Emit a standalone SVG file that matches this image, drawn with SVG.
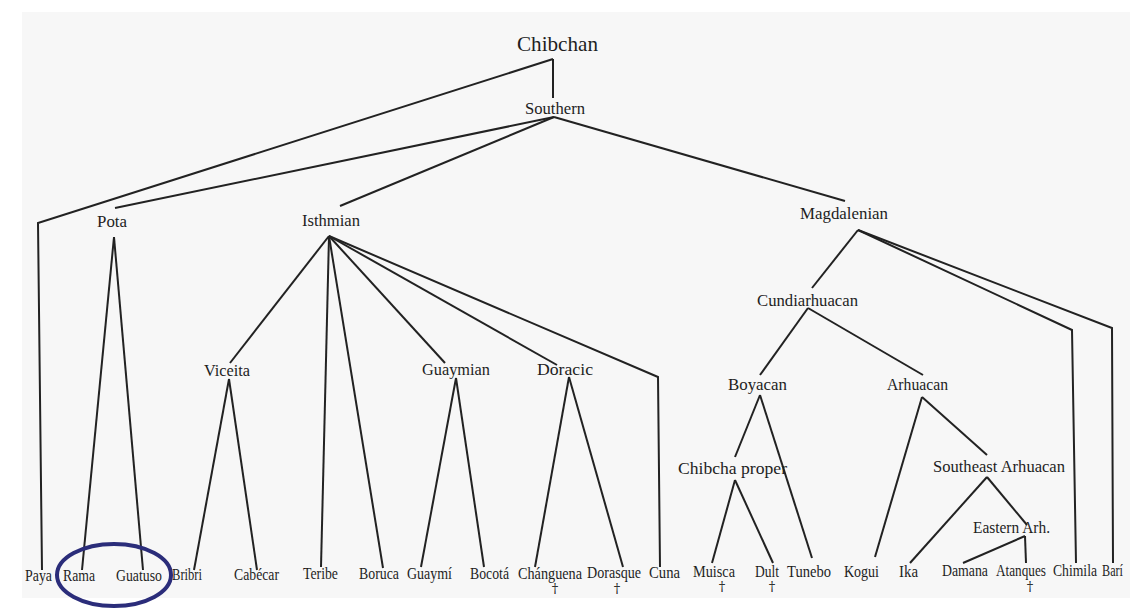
<svg xmlns="http://www.w3.org/2000/svg" width="1130" height="608" viewBox="0 0 1130 608" font-family="'Liberation Serif', 'DejaVu Serif', 'Times New Roman', serif">
<style>
text{fill:#1e1e1e}
.lab{font-size:17px}
.leaf{font-size:17px}
.dag{font-size:13px;font-family:'DejaVu Serif','Liberation Serif',serif}
.top{font-size:21px}
#connectors polyline,#connectors line{stroke:#222;stroke-width:2;fill:none;stroke-linejoin:miter}
</style>
<rect width="1130" height="608" fill="#ffffff"/>
<rect x="22" y="12" width="1108" height="586" fill="#f7f7f7"/>
<g id="connectors">
<line x1="553" y1="59" x2="553" y2="98"/>
<polyline points="553,59 38,223 42,570"/>
<line x1="554" y1="117" x2="115" y2="208"/>
<line x1="554" y1="117" x2="340" y2="206"/>
<line x1="554" y1="117" x2="845" y2="201"/>
<line x1="114" y1="237" x2="82" y2="570"/>
<line x1="114" y1="237" x2="143" y2="570"/>
<line x1="329" y1="236" x2="230" y2="363"/>
<line x1="329" y1="236" x2="321" y2="567"/>
<line x1="329" y1="236" x2="383" y2="568"/>
<line x1="329" y1="236" x2="445" y2="363"/>
<line x1="329" y1="236" x2="557" y2="365"/>
<polyline points="329,236 658,377 660,567"/>
<line x1="229" y1="379" x2="194" y2="570"/>
<line x1="229" y1="379" x2="257" y2="570"/>
<line x1="456" y1="378" x2="421" y2="567"/>
<line x1="456" y1="378" x2="484" y2="567"/>
<line x1="569" y1="377" x2="535" y2="567"/>
<line x1="569" y1="377" x2="623" y2="567"/>
<line x1="858" y1="230" x2="812" y2="288"/>
<polyline points="858,230 1072,330 1076,563"/>
<polyline points="858,230 1112,328 1113,563"/>
<line x1="808" y1="308" x2="760" y2="375"/>
<line x1="808" y1="308" x2="923" y2="375"/>
<line x1="760" y1="395" x2="735" y2="457"/>
<line x1="760" y1="395" x2="812" y2="558"/>
<line x1="735" y1="480" x2="712" y2="563"/>
<line x1="735" y1="480" x2="773" y2="563"/>
<line x1="922" y1="397" x2="875" y2="557"/>
<line x1="922" y1="397" x2="987" y2="455"/>
<line x1="987" y1="477" x2="910" y2="563"/>
<line x1="987" y1="477" x2="1027" y2="525"/>
<line x1="1025" y1="536" x2="963" y2="563"/>
<line x1="1025" y1="536" x2="1026" y2="563"/>
</g>
<g id="n-chibchan"><text class="top" x="517" y="51" textLength="81" lengthAdjust="spacingAndGlyphs">Chibchan</text></g>
<g id="n-southern"><text class="lab" x="525" y="114" textLength="60" lengthAdjust="spacingAndGlyphs">Southern</text></g>
<g id="n-pota"><text class="lab" x="97" y="227" textLength="30" lengthAdjust="spacingAndGlyphs">Pota</text></g>
<g id="n-isthmian"><text class="lab" x="302" y="226" textLength="58" lengthAdjust="spacingAndGlyphs">Isthmian</text></g>
<g id="n-magdalenian"><text class="lab" x="800" y="219" textLength="88" lengthAdjust="spacingAndGlyphs">Magdalenian</text></g>
<g id="n-viceita"><text class="lab" x="204" y="376" textLength="46" lengthAdjust="spacingAndGlyphs">Viceita</text></g>
<g id="n-guaymian"><text class="lab" x="422" y="375" textLength="68" lengthAdjust="spacingAndGlyphs">Guaymian</text></g>
<g id="n-doracic"><text class="lab" x="537" y="375" textLength="56" lengthAdjust="spacingAndGlyphs">Doracic</text></g>
<g id="n-cundiarhuacan"><text class="lab" x="757" y="306" textLength="101" lengthAdjust="spacingAndGlyphs">Cundiarhuacan</text></g>
<g id="n-boyacan"><text class="lab" x="728" y="390" textLength="59" lengthAdjust="spacingAndGlyphs">Boyacan</text></g>
<g id="n-arhuacan"><text class="lab" x="887" y="390" textLength="61" lengthAdjust="spacingAndGlyphs">Arhuacan</text></g>
<g id="n-chibcha-proper"><text class="lab" x="678" y="474" textLength="109" lengthAdjust="spacingAndGlyphs">Chibcha proper</text></g>
<g id="n-southeast-arhuacan"><text class="lab" x="933" y="472" textLength="132" lengthAdjust="spacingAndGlyphs">Southeast Arhuacan</text></g>
<g id="n-eastern-arh"><text class="lab" x="973" y="533" textLength="77" lengthAdjust="spacingAndGlyphs">Eastern Arh.</text></g>
<g id="n-paya"><text class="leaf" x="25" y="581" textLength="27" lengthAdjust="spacingAndGlyphs">Paya</text></g>
<g id="n-rama"><text class="leaf" x="63" y="581" textLength="32" lengthAdjust="spacingAndGlyphs">Rama</text></g>
<g id="n-guatuso"><text class="leaf" x="116" y="581" textLength="46" lengthAdjust="spacingAndGlyphs">Guatuso</text></g>
<g id="n-bribri"><text class="leaf" x="172" y="580" textLength="30" lengthAdjust="spacingAndGlyphs">Bribri</text></g>
<g id="n-cabecar"><text class="leaf" x="234" y="580" textLength="45" lengthAdjust="spacingAndGlyphs">Cabécar</text></g>
<g id="n-teribe"><text class="leaf" x="303" y="579" textLength="35" lengthAdjust="spacingAndGlyphs">Teribe</text></g>
<g id="n-boruca"><text class="leaf" x="359" y="579" textLength="40" lengthAdjust="spacingAndGlyphs">Boruca</text></g>
<g id="n-guaymi"><text class="leaf" x="407" y="579" textLength="45" lengthAdjust="spacingAndGlyphs">Guaymí</text></g>
<g id="n-bocota"><text class="leaf" x="470" y="579" textLength="39" lengthAdjust="spacingAndGlyphs">Bocotá</text></g>
<g id="n-changuena"><text class="leaf" x="518" y="579" textLength="64" lengthAdjust="spacingAndGlyphs">Chánguena</text><text class="dag" x="555" y="593" text-anchor="middle">†</text></g>
<g id="n-dorasque"><text class="leaf" x="587" y="578" textLength="54" lengthAdjust="spacingAndGlyphs">Dorasque</text><text class="dag" x="617" y="593" text-anchor="middle">†</text></g>
<g id="n-cuna"><text class="leaf" x="649" y="578" textLength="31" lengthAdjust="spacingAndGlyphs">Cuna</text></g>
<g id="n-muisca"><text class="leaf" x="693" y="577" textLength="42" lengthAdjust="spacingAndGlyphs">Muisca</text><text class="dag" x="722" y="591" text-anchor="middle">†</text></g>
<g id="n-dult"><text class="leaf" x="755" y="577" textLength="24" lengthAdjust="spacingAndGlyphs">Dult</text><text class="dag" x="772" y="591" text-anchor="middle">†</text></g>
<g id="n-tunebo"><text class="leaf" x="787" y="577" textLength="44" lengthAdjust="spacingAndGlyphs">Tunebo</text></g>
<g id="n-kogui"><text class="leaf" x="844" y="577" textLength="35" lengthAdjust="spacingAndGlyphs">Kogui</text></g>
<g id="n-ika"><text class="leaf" x="899" y="577" textLength="19" lengthAdjust="spacingAndGlyphs">Ika</text></g>
<g id="n-damana"><text class="leaf" x="942" y="576" textLength="46" lengthAdjust="spacingAndGlyphs">Damana</text></g>
<g id="n-atanques"><text class="leaf" x="996" y="576" textLength="50" lengthAdjust="spacingAndGlyphs">Atanques</text><text class="dag" x="1030" y="591" text-anchor="middle">†</text></g>
<g id="n-chimila"><text class="leaf" x="1053" y="576" textLength="44" lengthAdjust="spacingAndGlyphs">Chimila</text></g>
<g id="n-bari"><text class="leaf" x="1102" y="576" textLength="21" lengthAdjust="spacingAndGlyphs">Barí</text></g>
<ellipse id="highlight" cx="114" cy="575" rx="57" ry="31" fill="none" stroke="#2b2d7a" stroke-width="4"/>
</svg>
